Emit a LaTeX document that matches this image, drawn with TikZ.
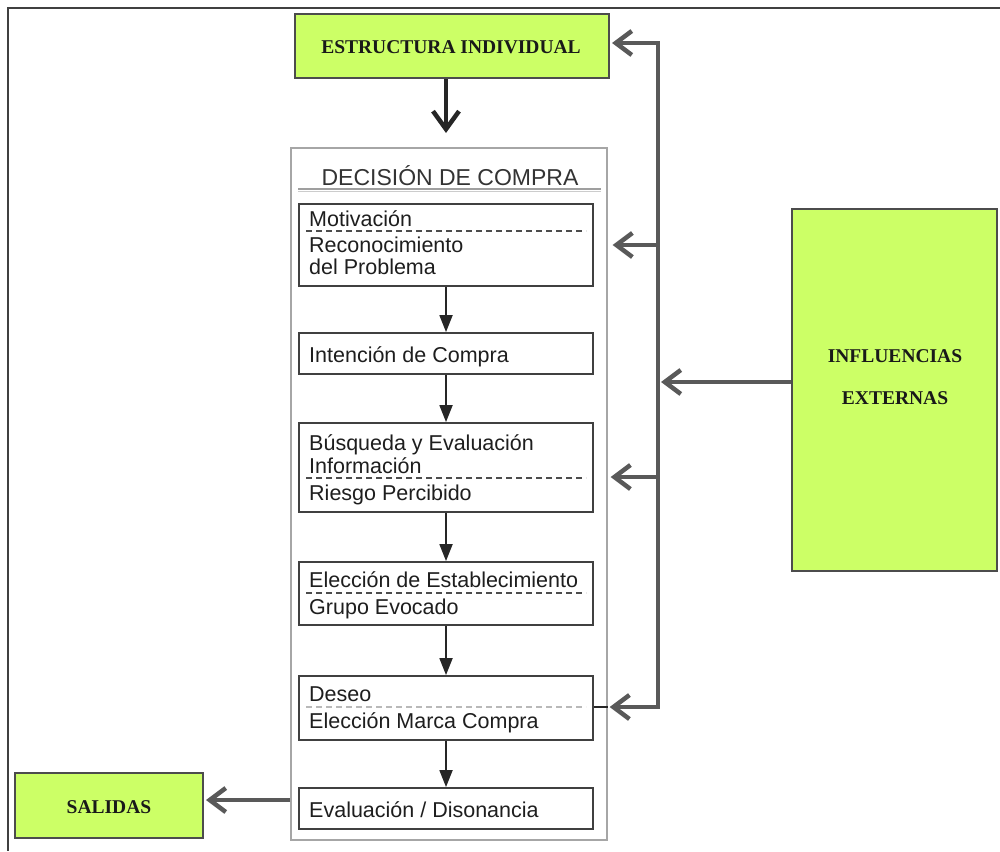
\documentclass[tikz,border=0pt]{standalone}
\usepackage{fontspec}
\setmainfont{Liberation Serif}
\setsansfont{Liberation Sans}
\usetikzlibrary{arrows.meta,calc}
\definecolor{limefill}{HTML}{CCFF66}
\definecolor{fbgray}{HTML}{595959}
\definecolor{inktext}{HTML}{1E1E1E}
\begin{document}
\begin{tikzpicture}[x=1pt,y=-1pt,
  greenbox/.style={draw=gray!60!black, fill=limefill, line width=2pt, inner sep=0pt},
  greentext/.style={font=\bfseries\fontsize{19.5}{22}\selectfont, text=black!90},
  stagebox/.style={draw=black!75, line width=1.8pt, fill=white, inner sep=0pt,
                   minimum width=294pt},
  outerbox/.style={draw=gray!70, line width=1.3pt, inner sep=0pt},
  stagetext/.style={anchor=base west, inner sep=0pt, text=inktext,
                    text height=15pt, text depth=3pt,
                    font=\sffamily\fontsize{21.5}{24}\selectfont},
  dashline/.style={gray!60!black, line width=1.5pt, dash pattern=on 6pt off 4pt},
  fbarrow/.style={fbgray, line width=4.5pt, line join=miter,
                  -{Straight Barb[length=16pt,width=24pt]}},
  stagearrow/.style={black!85, line width=1.8pt, -{Triangle[length=17pt,width=13pt]}},
  downarrow/.style={black!85, line width=4.5pt, -{Straight Barb[length=18pt,width=26pt]}}
]
\useasboundingbox (0,0) rectangle (1000,851);

% page frame
\draw[gray!50!black, line width=1.5pt] (1000,8) -- (8,8) -- (8,851);

% side boxes
\node[greenbox, minimum width=314pt, minimum height=64pt] (estr) at (452,46) {};
\node[greentext] (estrtxt) at (451,47) {ESTRUCTURA INDIVIDUAL};
\node[greenbox, minimum width=205pt, minimum height=362pt] (infl) at (894.5,390) {};
\node[greentext, align=center] (infltxt) at (895,377)
  {INFLUENCIAS\\[20pt]EXTERNAS};
\node[greenbox, minimum width=188pt, minimum height=65pt] (sal) at (109,805.5) {};
\node[greentext] (saltxt) at (109,807) {SALIDAS};

% purchase decision frame
\node[outerbox, minimum width=316pt, minimum height=692pt] (dec) at (449,494) {};
\node[anchor=base, inner sep=0pt, text=black!80,
      font=\sffamily\fontsize{23}{26}\selectfont] (title) at (450,185)
  {DECISIÓN DE COMPRA};
\draw[gray!75, line width=2pt] (298,189) -- (601,189);
\draw[gray!40, line width=1pt] (298,191.5) -- (601,191.5);

% stages
\node[stagebox, minimum height=82pt] (b1) at (446,245) {};
\node[stagebox, minimum height=41pt] (b2) at (446,353.5) {};
\node[stagebox, minimum height=89pt] (b3) at (446,467.5) {};
\node[stagebox, minimum height=63pt] (b4) at (446,593.5) {};
\node[stagebox, minimum height=64pt] (b5) at (446,708) {};
\node[stagebox, minimum height=41pt] (b6) at (446,808.5) {};

\node[stagetext] (t1a) at (309,226) {Motivación};
\draw[dashline] (306,231) -- (586,231);
\node[stagetext] (t1b) at (309,252) {Reconocimiento};
\node[stagetext] (t1c) at (309,274) {del Problema};

\node[stagetext] (t2) at (309,362) {Intención de Compra};

\node[stagetext] (t3a) at (309,450) {Búsqueda y Evaluación};
\node[stagetext] (t3b) at (309,473) {Información};
\draw[dashline] (306,478) -- (586,478);
\node[stagetext] (t3c) at (309,500) {Riesgo Percibido};

\node[stagetext] (t4a) at (309,587) {Elección de Establecimiento};
\draw[dashline] (306,593) -- (586,593);
\node[stagetext] (t4b) at (309,614) {Grupo Evocado};

\node[stagetext] (t5a) at (309,701) {Deseo};
\draw[dashline, gray!55] (306,707) -- (586,707);
\node[stagetext] (t5b) at (309,728) {Elección Marca Compra};

\node[stagetext] (t6) at (309,817) {Evaluación / Disonancia};

% flow between stages
\draw[stagearrow] (b1.south) -- (b2.north);
\draw[stagearrow] (b2.south) -- (b3.north);
\draw[stagearrow] (b3.south) -- (b4.north);
\draw[stagearrow] (b4.south) -- (b5.north);
\draw[stagearrow] (b5.south) -- (b6.north);

% individual structure into the decision
\coordinate (dtip) at (446,133);
\draw[downarrow] (dtip |- estr.south) -- (dtip);

% external influences and feedback bus
\coordinate (vt) at (658,43);
\coordinate (vb) at (658,707);
\coordinate (f3) at (658,477);
\coordinate (ia) at (661,382);
\draw[black!85, line width=2pt] (b5.east |- vb) -- (dec.east |- vb);
\draw[fbarrow, {Straight Barb[length=16pt,width=24pt]}-{Straight Barb[length=16pt,width=24pt]}]
  ([xshift=2pt]dec.east |- vb) -- (vb) -- (vt) -- ([xshift=2pt]estr.east |- vt);
\draw[fbarrow] (vt |- b1) -- ([xshift=5pt]dec.east |- b1);
\draw[fbarrow] (f3) -- ([xshift=3pt]dec.east |- f3);
\draw[fbarrow] (infl.west |- ia) -- (ia);

% outputs
\coordinate (so) at (0,800);
\draw[fbarrow] (dec.west |- so) -- ([xshift=2pt]sal.east |- so);
\end{tikzpicture}
\end{document}
